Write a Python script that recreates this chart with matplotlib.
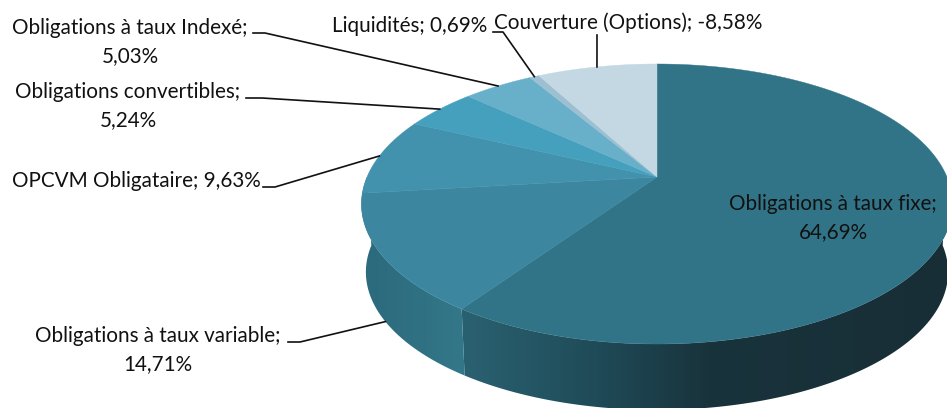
import numpy as np
import matplotlib
matplotlib.use("Agg")
import matplotlib.pyplot as plt
from matplotlib.colors import LinearSegmentedColormap
from matplotlib.patches import Polygon

names = ["Obligations à taux fixe", "Obligations à taux variable", "OPCVM Obligataire",
         "Obligations convertibles", "Obligations à taux Indexé", "Liquidités",
         "Couverture (Options)"]
values = [64.69, 14.71, 9.63, 5.24, 5.03, 0.69, -8.58]
colors = ["#317487", "#3c879f", "#4292ae", "#45a0bd", "#68afca", "#9cc0d2", "#c3d8e2"]

# label text, centre x, centre y
labels = [
    ("Obligations à taux fixe;\n64,69%", 833, 218),
    ("Obligations à taux variable;\n14,71%", 158, 350),
    ("OPCVM Obligataire; 9,63%", 136, 181),
    ("Obligations convertibles;\n5,24%", 128, 106),
    ("Obligations à taux Indexé;\n5,03%", 130, 42),
    ("Liquidités; 0,69%", 410, 26),
    ("Couverture (Options); -8,58%", 628, 23),
]

# elbow points of the leader lines, None for the label sitting on its slice
leaders = [
    None,
    [(288, 342), (300, 342)],
    [(263, 187), (275, 187)],
    [(246, 98), (262, 98)],
    [(253, 33), (265, 33)],
    [(493, 32), (503, 32)],
    [(597, 35)],
]

# pie geometry in pixels, tilted disc seen in perspective
APEX_X, APEX_Y = 657, 177
RX = 290
TILT_B = -100.66
TILT_C = 0.1929
MID_Y = 204
DEPTH = 68
SHRINK = 0.985


def rim(t):
    u, v = np.sin(t), np.cos(t)
    d = 1 + TILT_C * v
    return APEX_X + RX * u / d, (APEX_Y + TILT_B * v) / d


def lower_rim(t):
    x, y = rim(t)
    return APEX_X + (x - APEX_X) * SHRINK, MID_Y + (y - MID_Y) * SHRINK + DEPTH


def side_wall(ax, t0, t1, stops):
    # outer wall of a slice, shaded left to right
    t = np.linspace(t0, t1, 200)
    xt, yt = rim(t)
    xb, yb = lower_rim(t)
    pts = np.column_stack([np.r_[xt, xb[::-1]], np.r_[yt, yb[::-1]]])
    poly = Polygon(pts, closed=True, fc="none", ec="none")
    ax.add_patch(poly)
    cmap = LinearSegmentedColormap.from_list("wall", stops)
    x0, x1 = pts[:, 0].min(), pts[:, 0].max()
    img = ax.imshow(np.linspace(0, 1, 256)[None, :], cmap=cmap, aspect="auto",
                    extent=(x0, x1, pts[:, 1].max(), pts[:, 1].min()), zorder=1)
    img.set_clip_path(poly)


shares = np.abs(values) / np.abs(values).sum()
edges = np.r_[0, np.cumsum(shares)] * 2 * np.pi

plt.rcParams["font.family"] = "Lato"

fig = plt.figure(figsize=(9.47, 4.08), dpi=100)
ax = fig.add_axes([0, 0, 1, 1])

side_wall(ax, np.pi / 2, edges[1], [(0, "#2a6171"), (0.18, "#235361"), (0.37, "#1c414d"),
                                    (0.5, "#19333c"), (1, "#182e36")])
side_wall(ax, edges[1], np.radians(270), ["#2c6a7c", "#2f7082", "#33788a"])

for i, color in enumerate(colors):
    t = np.linspace(edges[i], edges[i + 1], 120)
    x, y = rim(t)
    ax.fill(np.r_[APEX_X, x], np.r_[APEX_Y, y], color=color, lw=0.3, zorder=2 + i * 0.01)

for (text, x, y) in labels:
    ax.text(x, y, text, ha="center", va="center", fontsize=14.9, color="#111111",
            linespacing=1.5, zorder=5)

for i, elbow in enumerate(leaders):
    if elbow is None:
        continue
    mid = (edges[i] + edges[i + 1]) / 2
    # the variable slice is labelled from its wall, the others from the top rim
    end = lower_rim(mid) if i == 1 else rim(mid)
    xs = [p[0] for p in elbow] + [end[0]]
    ys = [p[1] for p in elbow] + [end[1]]
    ax.plot(xs, ys, color="#111111", lw=1.2, zorder=4)

ax.set_xlim(0, 947)
ax.set_ylim(408, 0)
ax.axis("off")

fig.savefig("out.png", dpi=100)
